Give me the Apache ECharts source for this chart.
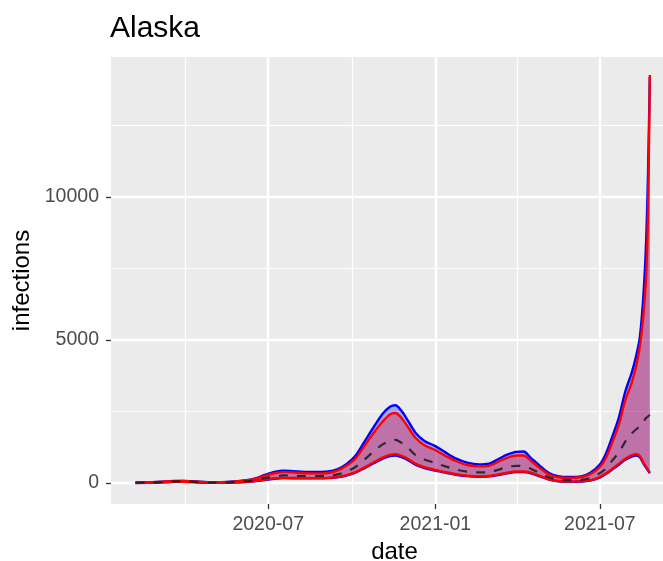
<!DOCTYPE html>
<html><head><meta charset="utf-8">
<script src="https://cdn.jsdelivr.net/npm/echarts@6/dist/echarts.min.js"></script>
<style>html,body{margin:0;padding:0;background:#fff}#c{width:663px;height:561px}</style>
</head><body><div id="c"></div>
<script>
const dates = ['2020-02-06','2020-02-20','2020-03-05','2020-03-19','2020-03-30','2020-04-12','2020-04-26','2020-05-10','2020-05-24','2020-06-07','2020-06-18','2020-06-28','2020-07-08','2020-07-18','2020-07-28','2020-08-10','2020-08-24','2020-09-05','2020-09-15','2020-09-25','2020-10-05','2020-10-15','2020-10-25','2020-11-04','2020-11-12','2020-11-18','2020-11-24','2020-12-02','2020-12-10','2020-12-20','2021-01-01','2021-01-12','2021-01-24','2021-02-05','2021-02-18','2021-03-01','2021-03-11','2021-03-21','2021-03-31','2021-04-08','2021-04-16','2021-04-26','2021-05-06','2021-05-16','2021-05-28','2021-06-10','2021-06-20','2021-07-01','2021-07-08','2021-07-15','2021-07-22','2021-07-29','2021-08-05','2021-08-10','2021-08-14','2021-08-18','2021-08-21','2021-08-23','2021-08-25'];
const lowerBlue = [0,5,20,40,40,25,5,5,15,40,70,110,150,170,165,160,160,170,200,260,360,520,690,850,940,960,910,800,640,520,430,360,290,240,220,230,280,340,380,380,340,230,120,60,40,50,80,190,320,480,640,810,920,960,900,680,530,430,340];
const lowerRed = [5,8,25,45,45,30,10,10,20,45,80,120,160,180,175,170,170,180,210,275,380,545,720,890,985,1005,955,840,675,550,455,380,305,252,232,242,295,358,400,400,358,245,130,68,48,58,90,205,340,505,675,850,965,1005,945,715,560,455,360];
const median = [8,12,30,55,55,40,15,15,30,60,110,180,230,265,255,245,245,255,300,400,560,820,1100,1350,1470,1510,1420,1230,980,820,700,580,470,400,370,380,460,560,600,590,500,340,200,120,100,110,170,340,520,800,1070,1450,1730,1880,1980,2150,2280,2330,2380];
const upperRed = [12,18,40,65,70,50,25,25,45,85,150,260,340,380,370,340,335,350,430,600,850,1300,1750,2150,2400,2450,2300,1950,1580,1320,1150,950,760,630,580,600,740,880,960,960,780,520,300,200,180,200,300,560,900,1450,2050,2900,3500,4100,4770,5900,7300,9500,14270];
const upperBlue = [15,20,45,70,75,55,28,28,50,95,170,290,390,430,415,390,385,400,480,660,950,1450,1950,2420,2670,2720,2550,2170,1760,1470,1290,1070,850,710,650,680,830,990,1090,1100,880,600,350,240,210,230,350,650,1050,1650,2300,3200,3850,4450,5100,6600,8500,10800,14200];

const majorXTicks = ['2020-07-01','2021-01-01','2021-07-01'];
const minorXTicks = ['2020-04-01','2020-10-01','2021-04-01'];
const majorYTicks = [0, 5000, 10000];
const minorYTicks = [2500, 7500, 12500];

const t = s => { const p = s.split('-').map(Number); return Date.UTC(p[0], p[1] - 1, p[2]); };
const fmtDate = v => { const d = new Date(v); return d.getUTCFullYear() + '-' + String(d.getUTCMonth() + 1).padStart(2, '0'); };
const xMin = t('2020-01-10'), xMax = t('2021-09-25');
const yMin = -735, yMax = 14900;
const FONT = 'Liberation Sans, Arial, Helvetica, sans-serif';

const pairs = arr => dates.map((d, i) => [t(d), arr[i]]);
const diff = (a, b) => dates.map((d, i) => [t(d), a[i] - b[i]]);
const SMOOTH = 0.3;

const chart = echarts.init(document.getElementById('c'), null, {renderer: 'canvas'});
const hidden = {show: false};
const noLine = {show: false, onZero: false};
chart.setOption({
  animation: false,
  backgroundColor: '#FFFFFF',
  textStyle: {fontFamily: FONT},
  title: {text: 'Alaska', left: 105, top: 9, textStyle: {fontSize: 30, fontWeight: 'normal', color: '#000', fontFamily: FONT}},
  grid: {left: 111, width: 567, top: 57, height: 447, show: true, backgroundColor: '#EBEBEB', borderWidth: 0, containLabel: false, outerBoundsMode: 'none'},
  xAxis: [{
    type: 'time', min: xMin, max: xMax, position: 'top',
    axisLine: noLine, axisTick: hidden, axisLabel: hidden, splitLine: hidden
  }, {
    type: 'value', min: xMin, max: xMax, position: 'bottom',
    name: 'date', nameLocation: 'middle', nameGap: 34,
    nameTextStyle: {fontSize: 24, color: '#000', fontFamily: FONT},
    axisLine: noLine,
    axisTick: {show: true, length: 5, customValues: majorXTicks.map(t), lineStyle: {color: '#333333', width: 1.3}},
    axisLabel: {customValues: majorXTicks.map(t), fontSize: 19.5, color: '#4D4D4D', margin: 11, fontFamily: FONT, formatter: v => fmtDate(v)},
    splitLine: {show: true, lineStyle: {color: '#FFFFFF', width: 2.4}}
  }, {
    type: 'value', min: xMin, max: xMax, position: 'top',
    axisLine: noLine,
    axisTick: {show: false, customValues: minorXTicks.map(t)},
    axisLabel: {show: false, customValues: minorXTicks.map(t)},
    splitLine: {show: true, lineStyle: {color: '#FFFFFF', width: 1.2}}
  }],
  yAxis: [{
    type: 'value', min: yMin, max: yMax,
    name: 'infections', nameLocation: 'middle', nameGap: 73,
    nameTextStyle: {fontSize: 24, color: '#000', fontFamily: FONT},
    axisLine: noLine,
    axisTick: {show: true, length: 5, customValues: majorYTicks, lineStyle: {color: '#333333', width: 1.3}},
    axisLabel: {customValues: majorYTicks, fontSize: 19.5, color: '#4D4D4D', margin: 12, fontFamily: FONT, formatter: v => String(v)},
    splitLine: {show: true, lineStyle: {color: '#FFFFFF', width: 2.4}}
  }, {
    type: 'value', min: yMin, max: yMax, position: 'right',
    axisLine: noLine,
    axisTick: {show: false, customValues: minorYTicks},
    axisLabel: {show: false, customValues: minorYTicks},
    splitLine: {show: true, lineStyle: {color: '#FFFFFF', width: 1.2}}
  }],
  series: [
    {type: 'line', stack: 'sb', data: pairs(lowerBlue), symbol: 'none', smooth: SMOOTH, lineStyle: {width: 0}, silent: true},
    {type: 'line', stack: 'sb', data: diff(upperBlue, lowerBlue), symbol: 'none', smooth: SMOOTH, lineStyle: {width: 0}, areaStyle: {color: '#0000FF', opacity: 0.3}, silent: true},
    {type: 'line', stack: 'sr', data: pairs(lowerRed), symbol: 'none', smooth: SMOOTH, lineStyle: {width: 0}, silent: true},
    {type: 'line', stack: 'sr', data: diff(upperRed, lowerRed), symbol: 'none', smooth: SMOOTH, lineStyle: {width: 0}, areaStyle: {color: '#FF0000', opacity: 0.3}, silent: true},
    {type: 'line', data: pairs(upperBlue), symbol: 'none', smooth: SMOOTH, lineStyle: {color: '#0000FF', width: 2.4}},
    {type: 'line', data: pairs(lowerBlue), symbol: 'none', smooth: SMOOTH, lineStyle: {color: '#0000FF', width: 2.4}},
    {type: 'line', data: pairs(upperRed), symbol: 'none', smooth: SMOOTH, lineStyle: {color: '#FF0000', width: 2.4}},
    {type: 'line', data: pairs(lowerRed), symbol: 'none', smooth: SMOOTH, lineStyle: {color: '#FF0000', width: 2.4}},
    {type: 'line', data: pairs(median), symbol: 'none', smooth: SMOOTH, lineStyle: {color: '#1a1a1a', width: 2.2, type: [9, 9], opacity: 0.85}}
  ]
});
</script></body></html>
